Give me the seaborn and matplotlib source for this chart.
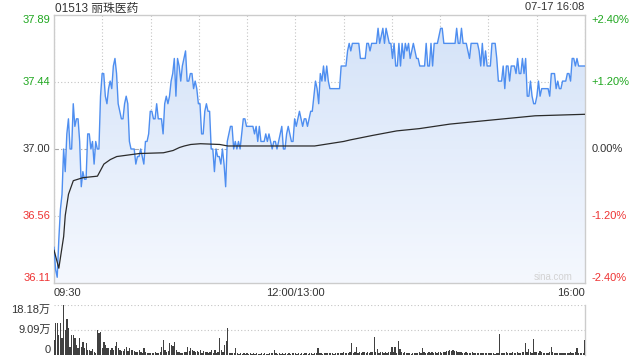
import numpy as np
import matplotlib
matplotlib.use("Agg")
import matplotlib.pyplot as plt
import seaborn as sns
from matplotlib.colors import LinearSegmentedColormap

# ---------------- data ----------------
title = "01513 丽珠医药"
stamp = "07-17 16:08"
prev_close = 37.00
pct_levels = [-2.40, -1.20, 0.00, 1.20, 2.40]
price_labels = ["36.11", "36.56", "37.00", "37.44", "37.89"]
pct_labels = ["-2.40%", "-1.20%", "0.00%", "+1.20%", "+2.40%"]
time_label_minutes = [0, 150, 330]
time_labels = ["09:30", "12:00/13:00", "16:00"]
vol_ticks = [0, 9.09, 18.18]
vol_labels = ["0", "9.09万", "18.18万"]

price = [
    # 09:30 - ~10:51
    36.35, 36.20, 36.15, 36.40, 36.60, 36.70, 37.00, 36.85, 37.10, 37.20,
    37.00, 37.00, 37.30, 37.15, 37.20, 37.20, 37.05, 36.75, 36.85, 36.80,
    36.80, 37.10, 37.10, 37.00, 37.05, 36.90, 37.05, 37.00, 37.00, 37.35,
    37.50, 37.50, 37.35, 37.30, 37.40, 37.45, 37.40, 37.55, 37.60, 37.50,
    37.30, 37.25, 37.20, 37.20, 37.30, 37.35, 37.30, 37.05, 37.00, 37.00,
    37.00, 36.90, 36.95, 36.95, 37.00, 36.95, 36.90, 37.05, 37.05, 37.10,
    37.25, 37.25, 37.20, 37.20, 37.30, 37.20, 37.20, 37.20, 37.10, 37.30,
    37.35, 37.30, 37.35, 37.45, 37.50, 37.60, 37.35, 37.60, 37.55, 37.45,
    37.55, 37.60,
    # ~10:51 - ~13:11
    37.65, 37.45, 37.45, 37.50, 37.50, 37.40, 37.45, 37.40, 37.30, 37.30,
    37.10, 37.10, 37.25, 37.30, 37.25, 37.25, 37.00, 37.00, 36.85, 37.00,
    36.95, 36.95, 36.90, 37.00, 36.90, 36.75, 37.05, 37.10, 37.15, 37.15,
    37.00, 37.05, 37.00, 37.05, 37.00, 37.10, 37.20, 37.20, 37.15, 37.15,
    37.15, 37.15, 37.15, 37.10, 37.15, 37.05, 37.15, 37.05, 37.05, 37.05,
    37.10, 37.05, 37.10, 37.05, 37.00, 37.05, 37.05, 37.00, 37.05, 37.10,
    37.15, 37.00, 37.00, 37.10, 37.15, 37.10, 37.05, 37.05, 37.20, 37.15,
    37.20, 37.25, 37.20, 37.15, 37.20, 37.20, 37.15, 37.20, 37.25,
    # ~13:11 - ~14:36
    37.25, 37.35, 37.45, 37.40, 37.30, 37.50, 37.45, 37.55, 37.45, 37.55,
    37.45, 37.40, 37.40, 37.40, 37.40, 37.40, 37.40, 37.40, 37.55, 37.55,
    37.55, 37.55, 37.65, 37.70, 37.65, 37.70, 37.70, 37.70, 37.70, 37.70,
    37.60, 37.60, 37.60, 37.60, 37.70, 37.70, 37.65, 37.70, 37.70, 37.70,
    37.70, 37.80, 37.70, 37.75, 37.80, 37.70, 37.80, 37.75, 37.70, 37.70,
    37.60, 37.70, 37.55, 37.55, 37.70, 37.55, 37.70, 37.60, 37.70, 37.65,
    37.70, 37.60, 37.65, 37.70, 37.65, 37.60, 37.60, 37.55, 37.55, 37.55,
    37.55, 37.70, 37.55, 37.55, 37.70, 37.55, 37.70, 37.70, 37.70, 37.75,
    37.80, 37.80, 37.70, 37.70, 37.70,
    # ~14:36 - 16:00
    37.70, 37.70, 37.70, 37.70, 37.70, 37.80, 37.70, 37.70, 37.80, 37.70,
    37.70, 37.70, 37.65, 37.60, 37.70, 37.70, 37.70, 37.70, 37.70, 37.65,
    37.55, 37.70, 37.55, 37.65, 37.55, 37.55, 37.55, 37.70, 37.70, 37.70,
    37.60, 37.45, 37.45, 37.45, 37.55, 37.40, 37.55, 37.55, 37.45, 37.55,
    37.55, 37.55, 37.50, 37.60, 37.50, 37.50, 37.60, 37.50, 37.60, 37.35,
    37.35, 37.45, 37.35, 37.30, 37.30, 37.35, 37.45, 37.35, 37.40, 37.40,
    37.40, 37.40, 37.40, 37.35, 37.50, 37.50, 37.50, 37.40, 37.45, 37.40,
    37.40, 37.45, 37.45, 37.45, 37.50, 37.50, 37.45, 37.60, 37.60, 37.55,
    37.60, 37.55, 37.55, 37.55, 37.55, 37.55,
]

avg_minutes = [0, 3, 6, 7, 9, 12, 18, 27, 29, 31, 35, 39, 53, 68, 74, 78, 81,
               85, 91, 103, 108, 162, 180, 184, 198, 213, 227, 246, 270, 299, 330]
avg_price = [36.33, 36.21, 36.42, 36.56, 36.70, 36.79, 36.81, 36.82, 36.86, 36.90,
             36.93, 36.95, 36.97, 36.975, 36.99, 37.01, 37.02, 37.03, 37.035, 37.03,
             37.02, 37.02, 37.05, 37.06, 37.09, 37.12, 37.135, 37.165, 37.19, 37.22,
             37.23]

# volume per minute, in 万 shares
volume = [
    5.5, 11.5, 11.5, 7.3, 11.5, 6.1, 18.2, 9.1, 13.0, 9.7,
    3.0, 7.3, 7.3, 6.1, 3.6, 2.4, 6.1, 3.0, 4.8, 2.4,
    4.2, 1.8, 1.8, 1.6, 2.1, 1.2, 0.9, 9.1, 7.9, 8.5,
    2.4, 4.8, 3.6, 2.7, 2.4, 1.8, 2.4, 1.8, 3.3, 4.8,
    2.4, 1.8, 1.6, 1.6, 2.1, 3.0, 1.6, 2.4, 1.8, 1.8,
    1.6, 1.2, 1.0, 1.8, 1.2, 0.8, 2.4, 1.2, 0.8, 0.6,
    0.8, 0.6, 0.8, 1.2, 0.6, 0.8, 1.2, 3.0, 5.5, 1.8,
    1.2, 1.6, 4.2, 3.6, 3.3, 4.8, 1.8, 1.2, 1.2, 0.8,
    0.8, 1.0, 1.2, 3.0, 1.6, 2.4, 1.8, 1.6, 1.2, 1.6,
    1.2, 1.8, 0.8, 1.6, 1.2, 1.2, 0.8, 1.2, 1.8, 0.6,
    1.8, 0.9, 1.2, 6.1, 1.8, 1.2, 3.6, 5.1, 9.9, 0.8,
    0.8, 0.6, 0.6, 2.4, 0.6,
    0.5, 0.7, 0.4, 0.6, 0.5, 0.8, 0.4, 0.6, 0.5, 0.7,
    0.4, 0.6, 0.5, 0.4, 0.7, 0.5, 0.6, 0.4, 0.5, 0.6,
    0.8, 0.6, 1.8, 0.7, 0.5, 0.6, 0.4, 0.6, 0.5, 0.7,
    0.4, 0.6, 0.5, 0.8, 0.6, 0.9, 0.5, 0.6, 0.4, 0.7,
    0.5, 0.6, 0.8, 0.4, 0.6, 0.9, 0.5, 0.7, 0.6, 2.4, 0.8,
    0.7, 0.5, 0.8, 0.6, 0.9, 0.7, 0.6, 0.8, 0.5, 0.7,
    0.9, 0.6, 0.8, 0.7, 1.0, 0.8, 0.6, 0.9, 1.2, 4.5,
    0.8, 1.0, 3.0, 0.9, 1.2, 0.8, 1.0, 1.1, 0.9, 1.2,
    0.8, 1.0, 1.2, 6.7, 1.0, 2.2, 0.9, 1.0, 1.2, 0.8,
    1.0, 0.9, 1.2, 1.0, 3.0, 1.2, 3.0, 0.9, 5.1, 2.1,
    1.2, 0.8, 1.0, 0.6, 0.9, 0.7, 0.5, 0.8, 0.6, 0.9,
    0.7, 1.0, 0.8, 2.4, 1.0, 0.8, 0.9, 1.1, 0.8, 1.0,
    0.9, 1.2, 0.8, 1.0, 1.1, 0.9, 1.2, 1.0, 1.4, 1.6,
    1.8, 1.5, 1.7, 1.4, 1.6, 1.2, 1.0, 1.1, 0.9, 0.8,
    1.0, 0.9, 0.7, 0.8, 1.0, 0.6, 0.7, 0.9, 0.8, 0.6,
    0.8, 0.7, 0.9, 0.6, 0.8, 0.7, 0.6, 0.8, 0.5, 0.7,
    0.9, 7.6, 0.8, 0.6, 0.9, 1.0, 0.7, 0.8, 0.9, 1.0,
    0.8, 0.7, 1.0, 0.9, 0.8, 1.1, 1.0, 4.5, 1.2, 2.2,
    1.0, 0.8, 5.8, 1.2, 1.0, 0.9, 1.5, 1.0, 0.8, 0.9,
    0.7, 0.8, 1.0, 3.0, 1.2, 0.9, 0.8, 0.6, 0.7, 0.8,
    0.6, 0.9, 0.7, 0.8, 0.6, 1.0, 0.7, 0.9, 1.2, 2.4,
    0.8, 0.6, 0.9, 0.7, 5.5,
]

# ---------------- style ----------------
sns.set_theme(style="white")
plt.rcParams["font.family"] = ["Liberation Sans", "Noto Sans CJK SC", "DejaVu Sans"]

TEXT = "#333333"
GREEN = "#1fa71f"
RED = "#ee3333"
FRAME = "#cccccc"
LINE_BLUE = "#4e8ef0"

W, H = 640, 360
fig = plt.figure(figsize=(6.4, 3.6), dpi=100)
ax = fig.add_axes([54 / W, 1 - 283 / H, 531 / W, 268 / H])
axv = fig.add_axes([54 / W, 1 - 355 / H, 531 / W, 50 / H])

TOTAL_MIN = 330
minutes = np.linspace(0, TOTAL_MIN, len(price))
vol_minutes = np.linspace(0, TOTAL_MIN, len(volume))
tick_prices = [prev_close * (1 + p / 100) for p in pct_levels]
ymin, ymax = tick_prices[0], tick_prices[-1]

# ---- price panel ----
poly = ax.fill_between(minutes, price, ymin, facecolor="none", edgecolor="none")
grad = np.linspace(0, 1, 256).reshape(-1, 1)
cmap = LinearSegmentedColormap.from_list("g", ["#f5f8fe", "#d3e2f8"])
im = ax.imshow(grad, extent=[0, TOTAL_MIN, ymin, ymax], origin="lower",
               aspect="auto", cmap=cmap, zorder=1)
im.set_clip_path(poly.get_paths()[0], transform=ax.transData)

sns.lineplot(x=minutes, y=price, ax=ax, color=LINE_BLUE, linewidth=1.0, zorder=3)
sns.lineplot(x=avg_minutes, y=avg_price, ax=ax, color="#2b2b2b", linewidth=0.9, zorder=4)

ax.set_xlim(0, TOTAL_MIN)
ax.set_ylim(ymin, ymax)
ax.set_xlabel("")
ax.set_ylabel("")

xt = list(range(0, TOTAL_MIN + 1, 30))
ax.set_xticks(xt)
xl = []
for t in xt:
    xl.append(time_labels[time_label_minutes.index(t)] if t in time_label_minutes else "")
ax.set_xticklabels(xl)
for lbl, t in zip(ax.get_xticklabels(), xt):
    if t == 0:
        lbl.set_ha("left")
    elif t == TOTAL_MIN:
        lbl.set_ha("right")
ax.tick_params(axis="x", length=0, pad=3.5, labelsize=8, labelcolor=TEXT)

ax.set_yticks(tick_prices)
ax.set_yticklabels(price_labels)
ax.tick_params(axis="y", length=0, pad=2.5, labelsize=8)
ycols = [RED, RED, TEXT, GREEN, GREEN]
vas = ["bottom", "center", "center", "center", "top"]
for lbl, c, va in zip(ax.get_yticklabels(), ycols, vas):
    lbl.set_color(c)
    lbl.set_va(va)

ax.grid(True, axis="both", linestyle=(0, (1, 2)), color="#c4c4c4", linewidth=0.8)
glines = ax.yaxis.get_gridlines()
glines[2].set_linestyle((0, (4, 2, 1, 2)))
glines[2].set_color("#a8a8a8")
glines[0].set_visible(False)
glines[4].set_visible(False)
for s in ax.spines.values():
    s.set_visible(True)
    s.set_color(FRAME)
    s.set_linewidth(1.0)

ax2 = ax.twinx()
ax2.set_ylim(ymin, ymax)
ax2.set_yticks(tick_prices)
ax2.set_yticklabels(pct_labels)
ax2.tick_params(axis="y", length=0, pad=4.5, labelsize=8)
for lbl, c, va in zip(ax2.get_yticklabels(), ycols, vas):
    lbl.set_color(c)
    lbl.set_va(va)
ax2.grid(False)
for s in ax2.spines.values():
    s.set_visible(False)

ax.text(0.94, 0.022, "sina.com", transform=ax.transAxes, ha="center", va="center",
        fontsize=7, color="#d2d2d2", zorder=5)

# ---- volume panel ----
sns.barplot(x=vol_minutes, y=volume, ax=axv, native_scale=True, color="#404040",
            saturation=1, width=0.8, linewidth=0, errorbar=None, zorder=3)
axv.set_xlim(0, TOTAL_MIN)
axv.set_ylim(0, vol_ticks[-1])
axv.set_xlabel("")
axv.set_ylabel("")
axv.set_xticks([])
axv.set_yticks(vol_ticks)
axv.set_yticklabels(vol_labels)
axv.tick_params(axis="y", length=0, pad=2.5, labelsize=8, labelcolor=TEXT)
for lbl, va in zip(axv.get_yticklabels(), ["bottom", "center", "top"]):
    lbl.set_va(va)
axv.grid(True, axis="y", linestyle=(0, (1, 2)), color="#c4c4c4", linewidth=0.8)
axv.yaxis.get_gridlines()[0].set_visible(False)
for name, s in axv.spines.items():
    s.set_visible(name == "right")
    s.set_color(FRAME)
    s.set_linewidth(1.0)

# ---- header ----
fig.text(55 / W, 1 - 9 / H, title, ha="left", va="center", fontsize=8.5, color=TEXT)
fig.text(584 / W, 1 - 7.5 / H, stamp, ha="right", va="center", fontsize=8, color=TEXT)

fig.savefig("out.png", dpi=100)
